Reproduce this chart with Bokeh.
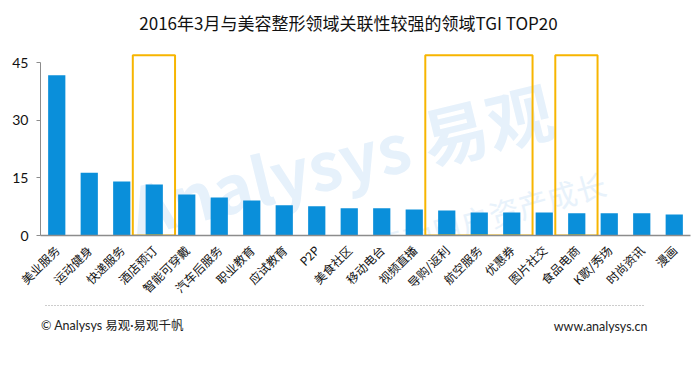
import math
from bokeh.plotting import figure
from bokeh.models import FactorRange, Range1d, FixedTicker, Label, ColumnDataSource
from bokeh.layouts import column
from bokeh.embed import file_html
from bokeh.resources import INLINE
from bokeh.core.properties import value

# ---------------- data ----------------
title_text = "2016年3月与美容整形领域关联性较强的领域TGI TOP20"
categories = ["美业服务", "运动健身", "快递服务", "酒店预订", "智能可穿戴", "汽车后服务",
              "职业教育", "应试教育", "P2P", "美食社区", "移动电台", "视频直播",
              "导购/返利", "航空服务", "优惠券", "图片社交", "食品电商", "K歌/秀场",
              "时尚资讯", "漫画"]
tgi = [41.8, 16.4, 14.1, 13.3, 10.7, 9.9, 9.1, 7.9, 7.6, 7.1, 7.1, 6.8,
       6.5, 6.0, 6.0, 6.0, 5.8, 5.8, 5.8, 5.5]
y_ticks = [0, 15, 30, 45]
highlight_first = ["酒店预订", "导购/返利", "食品电商"]
highlight_last = ["酒店预订", "优惠券", "食品电商"]
footer_left = "© Analysys 易观·易观千帆"
footer_right = "www.analysys.cn"
watermark_big = "Analysys 易观"
watermark_small = "分析驱动用户资产成长"

CJK = "Noto Sans CJK SC"
LAT = "Lato, Noto Sans CJK SC"
BAR = "#0a8fda"
AXIS = "#8c8c8c"
W = 692

# ---------------- chart ----------------
p = figure(x_range=FactorRange(factors=categories, range_padding=0),
           y_range=Range1d(0, 61.3),
           width=W, height=304, output_backend="svg", toolbar_location=None,
           min_border_left=40, min_border_right=2, min_border_top=0, min_border_bottom=69)
p.outline_line_color = None
p.xgrid.visible = False
p.ygrid.visible = False
p.background_fill_color = "white"
p.border_fill_color = "white"

# watermark
p.add_layout(Label(x=300, y=78, x_units="screen", y_units="screen", text=watermark_big,
                   angle=0.24, text_align="center", text_baseline="middle",
                   text_font=CJK, text_font_size="66px", text_font_style="bold",
                   text_color="#e6f1fb", level="underlay"))
p.add_layout(Label(x=420, y=12, x_units="screen", y_units="screen", text=watermark_small,
                   angle=0.28, text_align="center", text_baseline="middle",
                   text_font=CJK, text_font_size="30px",
                   text_color="#e8f2fb", level="underlay"))

src = ColumnDataSource(dict(cat=categories, val=tgi))
p.vbar(x="cat", top="val", width=0.53, bottom=0, source=src,
       fill_color=BAR, line_color=None)

box_src = ColumnDataSource(dict(
    left=[(c, -0.66) for c in highlight_first],
    right=[(c, 0.64) for c in highlight_last],
    top=[47.0] * len(highlight_first),
    bottom=[0] * len(highlight_first),
))
p.quad(left="left", right="right", top="top", bottom="bottom", source=box_src,
       fill_color=None, line_color="#f7b500", line_width=2)

# title
p.add_layout(Label(x=308, y=213, x_units="screen", y_units="screen", text=title_text,
                   text_align="center", text_baseline="middle",
                   text_font=CJK, text_font_size="17px", text_font_style="normal",
                   text_color="#111111"))

# axes
ya = p.yaxis[0]
ya.ticker = FixedTicker(ticks=y_ticks)
ya.bounds = (0, 45)
ya.axis_line_color = AXIS
ya.axis_line_width = 1
ya.major_tick_line_color = AXIS
ya.major_tick_out = 4
ya.major_tick_in = 0
ya.minor_tick_line_color = None
ya.major_label_text_font = "Lato"
ya.major_label_text_font_size = "14px"
ya.major_label_text_color = "#111111"
ya.major_label_standoff = 8

xa = p.xaxis[0]
xa.axis_line_color = AXIS
xa.axis_line_width = 1.5
xa.major_tick_line_color = None
xa.minor_tick_line_color = None
xa.major_label_orientation = math.pi / 4
xa.major_label_text_font = CJK
xa.major_label_text_font_size = "12px"
xa.major_label_text_color = "#111111"
xa.major_label_standoff = 6

# ---------------- footer (frame is aligned with the chart frame: x 40..690) ----------------
FH = 55
f = figure(width=W, height=FH, x_range=Range1d(40, 690), y_range=Range1d(0, FH),
           output_backend="svg", toolbar_location=None,
           x_axis_location=None, y_axis_location=None, min_border=0)
f.outline_line_color = None
f.xgrid.visible = False
f.ygrid.visible = False
f.background_fill_color = "white"
f.border_fill_color = "white"
f.segment(x0=[45], y0=[FH - 1], x1=[645], y1=[FH - 1], line_color="#9a9a9a",
          line_width=1, line_dash="1 2")
f.text(x=[40.5], y=[FH - 21], text=[footer_left], text_align="left", text_baseline="middle",
       text_font=value(LAT), text_font_size="12.5px", text_color="#222222")
f.text(x=[647], y=[FH - 22], text=[footer_right], text_align="right", text_baseline="middle",
       text_font=value(LAT), text_font_size="12.5px", text_color="#222222")

layout = column(p, f, spacing=0)
open("out.html", "w").write(file_html(layout, INLINE))
